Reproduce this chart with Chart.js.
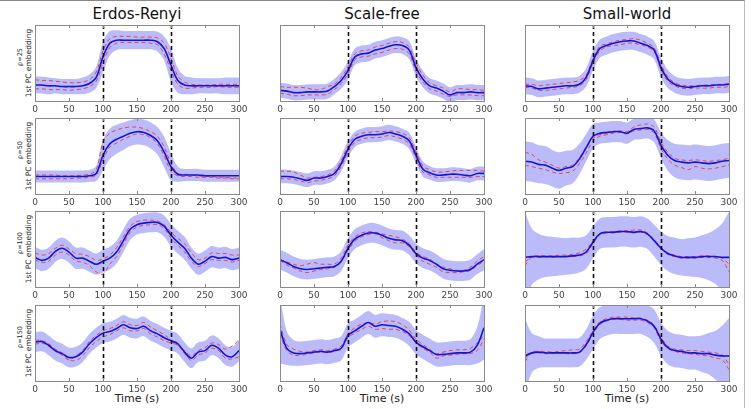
<!DOCTYPE html>
<html>
<head>
<meta charset="utf-8">
<script src="https://cdn.jsdelivr.net/npm/chart.js@4"></script>
<style>
  html, body { margin: 0; padding: 0; background: #fff; }
  #page { position: relative; width: 755px; height: 409px; overflow: hidden; font-family: 'DejaVu Sans', sans-serif; }
  #frame { position: absolute; left: 0; top: 0; width: 745px; height: 408px; border-top: 1px solid #888; border-right: 1px solid #bbb; box-sizing: border-box; }
  canvas { position: absolute; }
  .col-title { position: absolute; top: 5px; font-size: 15px; color: #111; transform: translateX(-50%); white-space: nowrap; }
  .x-title { position: absolute; top: 392px; font-size: 11px; color: #222; transform: translateX(-50%); white-space: nowrap; }
  .y-title { position: absolute; transform: translate(-50%, -50%) rotate(-90deg); white-space: nowrap; color: #222; text-align: center; }
</style>
</head>
<body>
<div id="page"><div id="frame"></div></div>
<script>
// ── axes / labels ──
const times = [0,10,20,30,40,50,60,70,80,90,100,110,120,130,140,150,160,170,180,190,200,210,220,230,240,250,260,270,280,290,300];
const xTicks = [0,50,100,150,200,250,300];
const switchTimes = [100, 200];
const networks = ['Erdos-Renyi', 'Scale-free', 'Small-world'];
const rhos = [25, 50, 100, 150];

// ── Erdos-Renyi ──
const er25Mean = [21,21,20,20,19,19,19,20,23,31,58,76,80,80,80,80,80,80,78,69,47,27,21,20,20,20,20,20,20,20,20];
const er25Sd   = [11,11,11,10,10,10,10,11,12,14,20,16,13,12,12,12,12,12,13,16,22,16,12,11,10,10,10,10,11,11,11];
const er25RedA = [28,27,27,26,25,24,24,25,28,38,66,82,85,85,85,84,84,84,83,76,56,33,25,22,21,21,21,22,22,22,22];
const er25RedB = [16,16,15,15,15,14,15,16,19,26,50,70,76,77,77,77,77,76,74,62,40,22,17,17,18,18,18,19,18,18,18];

const er50Mean = [23,23,23,23,23,23,23,23,24,27,51,66,72,76,80,82,81,77,70,55,36,26,25,25,25,24,24,24,24,24,24];
const er50Sd   = [8,8,8,8,8,8,8,8,8,10,20,20,19,18,17,17,17,17,18,20,18,10,8,8,8,8,8,8,8,8,8];
const er50RedA = [25,25,25,25,24,24,24,25,26,32,68,80,84,87,88,88,86,82,76,62,40,27,26,25,24,23,23,22,22,21,21];
const er50RedB = [20,20,20,20,20,20,21,21,22,25,45,62,67,72,76,79,78,74,66,50,30,24,23,23,22,22,22,21,21,20,20];

const er100Mean = [39,35,38,47,51,46,38,38,34,30,34,38,46,61,76,82,84,85,85,80,68,59,51,38,30,34,40,38,39,36,38];
const er100Sd   = [14,14,14,14,14,14,14,14,14,14,15,15,15,15,14,13,13,13,13,14,15,15,15,14,14,14,14,14,14,14,14];
const er100RedA = [45,42,44,51,55,50,44,43,40,35,37,42,52,66,80,86,88,88,87,82,72,64,57,45,36,38,45,44,44,42,42];
const er100RedB = [36,32,34,42,46,42,34,33,28,20,17,30,40,56,72,79,81,82,82,77,64,55,46,34,27,31,36,35,35,33,35];

const er150Mean = [51,52,47,40,36,31,32,38,49,57,63,65,69,74,70,69,72,66,62,57,53,49,38,30,38,40,47,43,34,32,40];
const er150Sd   = [13,13,13,13,13,13,13,13,13,13,13,13,13,13,13,13,13,13,13,13,13,13,13,13,13,13,13,13,13,13,14];
const er150RedA = [48,50,46,39,34,28,33,40,52,60,66,69,73,78,74,73,77,71,66,61,54,47,40,33,40,44,50,48,42,46,54];
const er150RedB = [54,53,49,42,37,28,27,33,44,52,58,61,66,70,66,66,69,62,58,53,50,47,36,27,34,37,43,40,30,29,32];

// ── Scale-free ──
const sf25Mean = [14,13,11,11,12,12,12,13,19,27,40,58,62,63,67,69,72,74,73,67,44,29,20,17,13,8,11,11,12,11,11];
const sf25Sd   = [10,10,10,10,10,10,10,10,10,11,12,11,11,11,11,11,11,11,11,12,12,11,10,10,10,10,10,10,10,10,10];
const sf25RedA = [19,18,18,18,17,15,15,19,22,31,45,62,66,67,71,73,76,78,77,71,50,34,24,20,17,12,16,16,15,15,14];
const sf25RedB = [10,9,7,7,8,8,8,9,15,23,36,54,58,59,62,64,67,69,68,62,39,25,16,13,9,6,8,8,8,7,7];

const sf50Mean = [23,23,22,20,18,21,21,23,27,40,59,72,76,78,78,79,81,79,76,70,51,33,28,25,25,26,26,25,24,27,27];
const sf50Sd   = [9,9,9,9,9,9,9,9,9,10,11,10,10,10,10,10,10,10,10,11,11,10,9,9,9,9,9,9,9,9,9];
const sf50RedA = [30,30,29,25,21,22,23,25,30,44,63,76,80,81,82,82,83,82,80,74,56,37,32,29,29,30,31,31,31,31,30];
const sf50RedB = [20,20,19,17,15,17,18,20,24,36,55,68,72,74,74,75,77,75,72,66,47,29,25,22,22,22,22,22,22,23,23];

const sf100Mean = [36,32,27,24,23,24,25,26,27,34,51,63,68,71,71,68,64,62,61,55,44,38,35,30,24,22,21,21,23,30,36];
const sf100Sd   = [13,13,13,13,13,13,13,13,13,13,13,13,13,13,13,13,13,13,13,13,13,13,13,13,13,13,13,13,13,13,14];
const sf100RedA = [36,33,30,28,30,32,30,30,30,38,55,66,71,73,72,70,68,66,63,57,46,40,37,30,26,24,22,22,26,34,40];
const sf100RedB = [35,29,25,21,19,21,23,24,26,33,48,60,66,69,70,65,61,58,58,53,42,34,30,26,20,19,19,20,22,28,34];

const sf150Mean = [68,43,37,36,37,38,39,38,40,43,60,66,72,77,72,74,73,72,68,62,51,45,40,35,35,36,37,37,38,47,70];
const sf150Sd   = [45,22,17,16,16,16,16,16,16,16,16,15,15,15,15,15,15,15,15,16,16,16,16,16,16,16,16,16,17,24,42];
const sf150RedA = [75,48,42,39,38,40,41,40,42,46,62,70,75,77,75,78,79,78,74,67,55,48,42,36,38,40,41,41,43,50,60];
const sf150RedB = [62,40,34,34,35,37,38,37,39,42,57,63,68,72,68,69,68,68,65,60,50,43,38,30,33,34,35,36,36,40,55];

// ── Small-world ──
const sw25Mean = [20,19,16,17,18,19,20,20,22,31,53,69,73,76,78,79,79,76,73,67,44,29,22,19,18,19,20,20,21,21,22];
const sw25Sd   = [11,11,11,11,11,11,11,11,11,12,13,12,12,12,12,12,12,12,12,12,13,12,11,11,11,11,11,11,11,11,11];
const sw25RedA = [22,22,20,21,22,23,24,25,27,34,56,72,75,78,80,81,82,80,76,70,48,32,24,21,20,20,21,21,22,22,23];
const sw25RedB = [18,17,14,14,15,16,17,18,20,28,50,66,71,73,74,76,76,74,71,65,41,26,20,17,16,17,17,17,18,18,19];

const sw50Mean = [43,42,39,38,34,31,34,36,46,61,76,80,81,82,82,80,85,86,87,83,64,51,44,42,41,42,41,40,41,43,44];
const sw50Sd   = [26,26,25,25,24,24,23,22,20,18,16,14,14,14,14,14,14,14,14,15,17,20,22,23,23,23,23,23,23,23,23];
const sw50RedA = [55,52,45,42,38,34,36,38,48,62,73,78,80,82,83,82,88,91,92,88,68,55,47,45,44,45,44,43,44,45,47];
const sw50RedB = [38,36,34,32,29,27,28,30,40,54,70,76,78,80,81,79,83,84,85,80,60,46,38,35,32,36,34,33,34,36,38];

const sw100Mean = [39,40,40,40,40,40,40,41,42,46,59,70,72,72,73,73,72,73,70,61,51,44,41,39,39,39,40,40,40,39,39];
const sw100Sd   = [60,37,30,27,26,25,24,24,23,22,21,20,20,20,20,20,20,20,20,21,22,23,24,24,25,26,28,31,36,45,60];
const sw100RedA = [28,40,41,41,41,42,42,43,45,50,60,70,72,73,74,74,75,75,71,62,52,45,42,40,40,40,41,41,40,38,30];
const sw100RedB = [33,39,39,40,39,40,40,40,41,44,57,69,71,71,72,72,71,72,69,60,50,43,40,38,38,38,39,39,38,35,20];

const sw150Mean = [33,37,38,37,37,37,37,37,38,48,64,76,80,82,82,82,82,82,79,72,55,44,40,39,37,37,36,36,34,33,33];
const sw150Sd   = [50,26,21,19,19,19,19,19,19,20,22,21,20,20,20,20,20,20,21,22,22,22,22,22,22,22,24,27,32,40,50];
const sw150RedA = [25,38,39,39,38,39,40,41,42,52,66,78,82,84,84,84,83,83,80,73,58,46,42,41,40,40,39,38,37,34,22];
const sw150RedB = [30,36,37,36,36,37,36,36,37,46,62,74,79,81,81,80,80,80,77,70,52,43,39,37,36,35,34,33,30,28,15];

// rows = rho, cols = network
const PANELS = [
  [[er25Mean, er25Sd, er25RedA, er25RedB],   [sf25Mean, sf25Sd, sf25RedA, sf25RedB],   [sw25Mean, sw25Sd, sw25RedA, sw25RedB]],
  [[er50Mean, er50Sd, er50RedA, er50RedB],   [sf50Mean, sf50Sd, sf50RedA, sf50RedB],   [sw50Mean, sw50Sd, sw50RedA, sw50RedB]],
  [[er100Mean, er100Sd, er100RedA, er100RedB], [sf100Mean, sf100Sd, sf100RedA, sf100RedB], [sw100Mean, sw100Sd, sw100RedA, sw100RedB]],
  [[er150Mean, er150Sd, er150RedA, er150RedB], [sf150Mean, sf150Sd, sf150RedA, sf150RedB], [sw150Mean, sw150Sd, sw150RedA, sw150RedB]],
];

// ── layout ──
const COL_LEFT = [35, 280, 525];
const ROW_TOP  = [25, 118, 211, 305];
const PW = 204, PH = 76, PAD_X = 12, PAD_TOP = 2, AXIS_H = 15;
const FM = "'DejaVu Sans', sans-serif";

const BLUE = '#1414d8';
const RED  = 'rgba(232,50,50,0.85)';
const BAND = 'rgba(120,120,245,0.5)';

const page = document.getElementById('page');

const framePlugin = {
  id: 'frame',
  afterDatasetsDraw(chart) {
    const { ctx, chartArea: a, scales: { x } } = chart;
    ctx.save();
    // switch markers
    ctx.strokeStyle = '#111'; ctx.lineWidth = 1.6; ctx.setLineDash([4, 3]);
    switchTimes.forEach(t => {
      const px = Math.round(x.getPixelForValue(t)) + 0.5;
      ctx.beginPath(); ctx.moveTo(px, a.top); ctx.lineTo(px, a.bottom); ctx.stroke();
    });
    ctx.setLineDash([]);
    // box + inward ticks
    ctx.strokeStyle = '#8a8a8a'; ctx.lineWidth = 1;
    ctx.strokeRect(Math.round(a.left) + 0.5, Math.round(a.top) + 0.5, Math.round(a.right - a.left), Math.round(a.bottom - a.top));
    xTicks.forEach(t => {
      const px = Math.round(x.getPixelForValue(t)) + 0.5;
      ctx.beginPath();
      ctx.moveTo(px, a.bottom); ctx.lineTo(px, a.bottom - 3);
      ctx.moveTo(px, a.top); ctx.lineTo(px, a.top + 3);
      ctx.stroke();
    });
    ctx.restore();
  }
};

function addText(cls, text, left, top, size) {
  const d = document.createElement('div');
  d.className = cls;
  d.textContent = text;
  d.style.left = left + 'px';
  d.style.top = top + 'px';
  if (size) d.style.fontSize = size + 'px';
  page.appendChild(d);
}

networks.forEach((name, c) => addText('col-title', name, COL_LEFT[c] + PW / 2, 5));
networks.forEach((_, c) => addText('x-title', 'Time (s)', COL_LEFT[c] + PW / 2, 392));
rhos.forEach((rho, r) => {
  const cy = ROW_TOP[r] + PH / 2;
  addText('y-title', 'ρ=' + rho, 20, cy - 6, 6.5);
  addText('y-title', '1st PC embedding', 28, cy, 7.5);
});

PANELS.forEach((row, r) => row.forEach(([mean, sd, redA, redB], c) => {
  const cv = document.createElement('canvas');
  const W = PW + PAD_X * 2, H = PH + PAD_TOP + AXIS_H;
  cv.width = W; cv.height = H;
  cv.style.left = (COL_LEFT[c] - PAD_X) + 'px';
  cv.style.top = (ROW_TOP[r] - PAD_TOP) + 'px';
  page.appendChild(cv);

  const pts = arr => arr.map((v, i) => ({ x: times[i], y: v }));
  const line = { pointRadius: 0, tension: 0.35, fill: false };

  new Chart(cv, {
    type: 'line',
    data: {
      datasets: [
        { ...line, data: pts(mean), borderColor: BLUE, borderWidth: 1.6 },
        { ...line, data: pts(redA), borderColor: RED, borderWidth: 1, borderDash: [4, 3] },
        { ...line, data: pts(redB), borderColor: RED, borderWidth: 1, borderDash: [4, 3] },
        { ...line, data: pts(mean.map((m, i) => m + sd[i])), borderWidth: 0, borderColor: 'transparent', backgroundColor: BAND, fill: '+1' },
        { ...line, data: pts(mean.map((m, i) => m - sd[i])), borderWidth: 0, borderColor: 'transparent' },
      ]
    },
    options: {
      responsive: false, animation: false, devicePixelRatio: 1,
      layout: { padding: { left: PAD_X, right: PAD_X, top: PAD_TOP, bottom: 0 } },
      plugins: { legend: { display: false }, tooltip: { enabled: false } },
      scales: {
        x: {
          type: 'linear', min: 0, max: 300,
          afterBuildTicks: s => { s.ticks = xTicks.map(v => ({ value: v })); },
          afterFit: s => { s.height = AXIS_H; },
          grid: { display: false, drawTicks: false }, border: { display: false },
          ticks: { padding: 3, color: '#444', font: { family: FM, size: 9 }, maxRotation: 0 }
        },
        y: { display: false, min: 0, max: 100 }
      }
    },
    plugins: [framePlugin]
  });
}));
</script>
</body>
</html>
